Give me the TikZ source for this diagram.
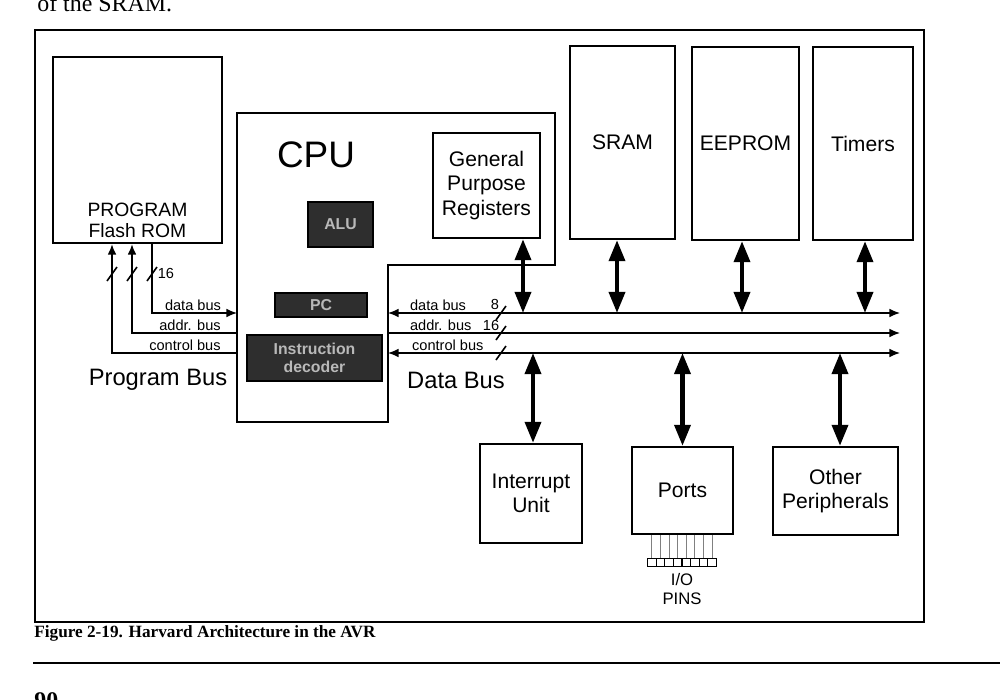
\documentclass[tikz,border=0pt]{standalone}
\usepackage{fontspec}
\setmainfont{Liberation Sans}
\newfontfamily\serifcap{Liberation Serif}
\usetikzlibrary{arrows.meta}
\usetikzlibrary{calc}

\tikzset{
  blk/.style={draw, line width=1.3pt, inner sep=0pt, align=center, font=\fontsize{12}{13.8}\selectfont},
  darkblk/.style={draw, fill=black!82, line width=0.8pt, inner sep=0pt, align=center, text=gray!55, font=\bfseries\fontsize{9}{10}\selectfont},
  bus/.style={line width=0.9pt},
  tip/.style={-{Latex[length=6pt,width=5pt]}},
  bitip/.style={{Latex[length=6pt,width=5pt]}-{Latex[length=6pt,width=5pt]}},
  dbl/.style={line width=2.4pt, {Triangle[length=12pt,width=9pt]}-{Triangle[length=12pt,width=9pt]}},
  buslbl/.style={font=\fontsize{8.3}{9}\selectfont, inner sep=1pt},
  biglbl/.style={font=\fontsize{13.5}{15}\selectfont}
}
\newcommand{\buscut}[1]{\draw[bus] #1 ++(-5,7) -- ++(10,-14);}

\begin{document}
\begin{tikzpicture}[x=0.02cm, y=-0.02cm]
	\useasboundingbox (0,0) rectangle (1002,700);
	\node[anchor=base west, inner sep=0pt, font=\serifcap\fontsize{13.6}{16}\selectfont] (prev) at (37,11) {of the SRAM.};
	\draw[line width=1.1pt] (35,30) rectangle (924,622);

	% program side
	\node[blk, minimum width=3.38cm, minimum height=3.72cm] (rom) at (137.5,150) {};
	\node[align=center, font=\fontsize{11}{12}\selectfont] (romtxt) at (137.5,220.5) {PROGRAM\\Flash ROM};

	% cpu
	\draw[line width=1.3pt] (237,113) -- (555,113) -- (555,265) -- (388,265) -- (388,422) -- (237,422) -- cycle;
	\node[font=\fontsize{21}{24}\selectfont] (cpu) at (316,155) {CPU};
	\node[blk, minimum width=2.14cm, minimum height=2.1cm] (gpr) at (486.5,185.5) {General\\Purpose\\Registers};
	\node[darkblk, minimum width=1.3cm, minimum height=0.9cm] (alu) at (340.5,224.5) {ALU};
	\node[darkblk, minimum width=1.84cm, minimum height=0.48cm] (pc) at (321,305) {PC};
	\node[darkblk, minimum width=2.7cm, minimum height=0.92cm] (idec) at (314.5,358) {Instruction\\decoder};

	% data memory and peripherals
	\node[blk, minimum width=2.1cm, minimum height=3.86cm] (sram) at (622.5,142.5) {SRAM};
	\node[blk, minimum width=2.14cm, minimum height=3.86cm] (eeprom) at (745.5,143.5) {EEPROM};
	\node[blk, minimum width=2.0cm, minimum height=3.86cm] (timers) at (863,143.5) {Timers};
	\node[blk, minimum width=2.04cm, minimum height=1.98cm] (intr) at (531,493.5) {Interrupt\\Unit};
	\node[blk, minimum width=2.02cm, minimum height=1.74cm] (ports) at (682.5,490.5) {Ports};
	\node[blk, minimum width=2.5cm, minimum height=1.76cm] (other) at (835.5,491) {Other\\Peripherals};

	% bus ends
	\coordinate (pd) at (237,313);
	\coordinate (pa) at (237,333);
	\coordinate (pcb) at (237,353);
	\coordinate (dL) at (388,313);
	\coordinate (dR) at (900,313);
	\coordinate (aL) at (388,333);
	\coordinate (aR) at (900,333);
	\coordinate (cL) at (388,353);
	\coordinate (cR) at (900,353);

	% program bus
	\draw[bus, tip] ([xshift=0.29cm]rom.south) |- (pd);
	\draw[bus, tip] (pa) -| ([xshift=-0.11cm]rom.south);
	\draw[bus, tip] (pcb) -| ([xshift=-0.51cm]rom.south);
	\buscut{(112,274)}
	\buscut{(132,274)}
	\buscut{(152,274)}
	\node[buslbl] (w16a) at (166,273) {16};
	\node[buslbl, anchor=south] at (193,313) {data bus};
	\node[buslbl, anchor=south] at (190,333) {addr. bus};
	\node[buslbl, anchor=south] at (185,353) {control bus};
	\node[biglbl] (pbus) at (158,380) {Program Bus};

	% data bus
	\draw[bus, bitip] (dL) -- (dR);
	\draw[bus, tip] (aL) -- (aR);
	\draw[bus, bitip] (cL) -- (cR);
	\buscut{(501,313)}
	\buscut{(501,333)}
	\buscut{(501,353)}
	\node[buslbl, anchor=south west] at (408,313) {data bus};
	\node[buslbl, anchor=south west] at (408,333) {addr. bus};
	\node[buslbl, anchor=south west] at (410,353) {control bus};
	\node[buslbl] (w8) at (495,304) {8};
	\node[buslbl] (w16b) at (491,325) {16};
	\node[biglbl] (dbus) at (456,380) {Data Bus};

	\coordinate (gport) at ($(gpr.south)+(36.5,0)$);
	\draw[dbl] (gport) -- (gport |- dL);
	\draw[dbl] ([xshift=-0.11cm]sram.south) -- ([xshift=-0.11cm]sram.south |- dL);
	\draw[dbl] ([xshift=-0.07cm]eeprom.south) -- ([xshift=-0.07cm]eeprom.south |- dL);
	\draw[dbl] ([xshift=0.04cm]timers.south) -- ([xshift=0.04cm]timers.south |- dL);
	\draw[dbl] ([xshift=0.04cm]intr.north |- cL) -- ([xshift=0.04cm]intr.north);
	\draw[dbl] (ports.north |- cL) -- (ports.north);
	\draw[dbl] ([xshift=0.09cm]other.north |- cL) -- ([xshift=0.09cm]other.north);

	% i/o pins
	\foreach \i in {0,...,7} {
		\draw[gray, line width=0.5pt] ($(ports.south)+(\i*8.6-30.6,0)$) -- ++(0,23);
		\draw[line width=0.6pt] ($(ports.south)+(\i*8.6-34.9,23)$) rectangle ++(8.6,8);
	}
	\node[align=center, font=\fontsize{9.5}{10.5}\selectfont] (pins) at (682,589) {I/O\\PINS};

	\node[anchor=west, inner sep=0pt, font=\serifcap\bfseries\fontsize{9.8}{11}\selectfont] (cap) at (34,633) {Figure 2-19. Harvard Architecture in the AVR};
	\draw[line width=1.7pt] (33,663) -- (1000,663);
	\node[anchor=base west, inner sep=0pt, font=\serifcap\bfseries\fontsize{13.6}{16}\selectfont] (pnum) at (34,708) {90};
\end{tikzpicture}
\end{document}
